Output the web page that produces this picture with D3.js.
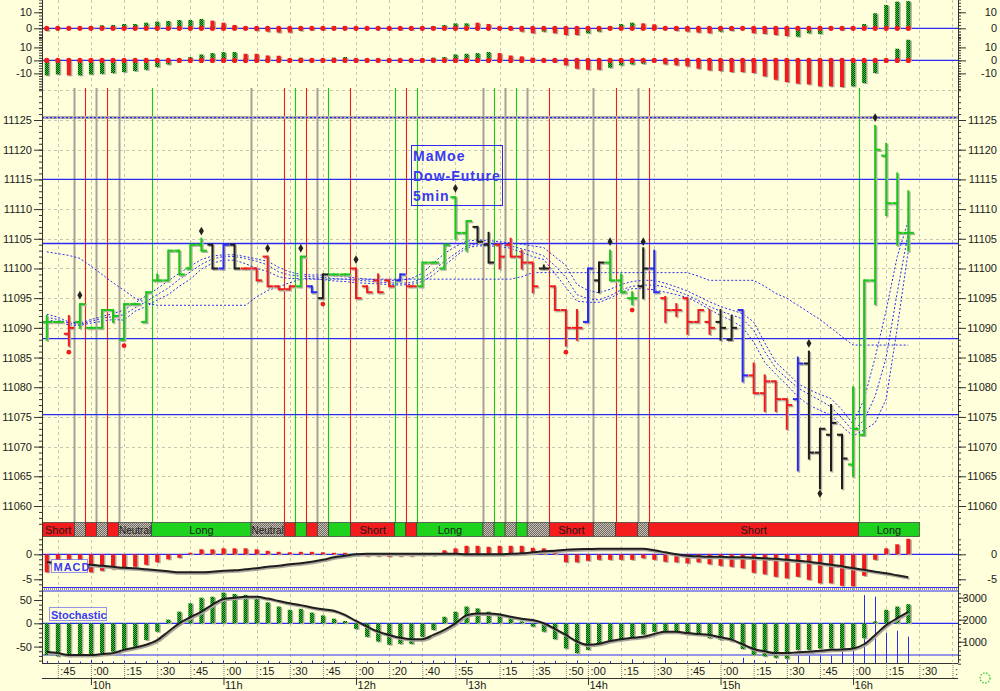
<!DOCTYPE html>
<html><head><meta charset="utf-8">
<script src="https://cdn.jsdelivr.net/npm/d3@7"></script>
<style>
body{margin:0;background:#ffffdb;}
svg{display:block;font-family:"Liberation Sans",Arial,sans-serif;}
</style></head>
<body><svg id="c" width="1000" height="691"></svg>
<script>
// ---------------- DATA ----------------
const barOpen = [11091,11091,11089,11091,11090,11090,11093,11088,11094,11091,
 11098,11098,11103,11100,11104,11104,11100,11104,11100,11100,
 11102,11097,11096.5,11097,11097,11095,11099,11099,11100,11097,
 11098,11098,11098,11097,11097,11101,11100,11112,11106,11107,
 11104,11104,11104,11102,11101,11100,11097,11093,11090,11091,
 11098,11101,11098,11095,11097,11100,11095,11093,11095,11091,
 11091,11091,11088,11093,11082,11079,11081,11078,11078,11084,
 11069,11072,11072,11067,11072,11098,11119,11111,11106];
const barHigh = [11092,11091,11092,11094,11090,11093,11093,11094,11094,11096,
 11099,11103,11103,11104,11105,11104,11104,11104,11100,11100,
 11102,11097,11097,11102,11097,11099,11099,11099,11100,11097,
 11099,11098,11099,11097,11101,11101,11104,11112,11108,11107,
 11106,11104,11105,11103,11101,11100.5,11097,11093,11093,11100,
 11101,11103,11099,11096,11103.4,11103,11095.2,11094,11095,11093,
 11093,11093,11092,11093,11084,11082,11081,11078,11085,11086,
 11073,11077,11072,11080,11098,11124,11121,11116,11113];
const barLow = [11088,11091,11087,11090,11090,11090,11091,11088,11094,11091,
 11098,11098,11099,11100,11103,11100,11100,11100,11100,11098,
 11097,11096.5,11096.5,11097,11096,11095,11099,11099,11095,11096,
 11096,11097,11098,11097,11097,11101,11100,11105,11103,11104.5,
 11101,11100,11102,11100,11096,11100,11093,11087,11088,11091,
 11096,11098,11096,11094,11095,11096,11091,11092,11089,11091,
 11089,11088,11088,11081,11079,11076,11076,11073,11066,11068,
 11063,11066,11063,11065,11072,11094,11109,11104,11103];
const barClose = [11091,11091,11090,11094,11090,11093,11092,11094,11094,11096,
 11098,11103,11099,11104,11103,11100,11104,11100,11100,11098,
 11097,11096.5,11097,11102,11096,11099,11099,11099,11095,11096,
 11096,11097,11099,11097,11101,11101,11104,11106,11108,11104.5,
 11101,11102,11102,11101,11097,11100,11093,11090,11090,11100,
 11101,11098,11096,11095,11100,11096,11093,11093,11091,11093,
 11090,11090,11090,11082,11079,11081,11078,11077,11084,11069,
 11073,11074,11068,11073,11098,11120,11111,11106,11106];
const barColor = ["g","g","r","g","g","g","g","g","g","g",
 "g","g","g","g","g","k","b","k","r","r",
 "r","r","r","g","b","k","g","g","r","r",
 "r","r","b","r","g","g","g","g","g","k",
 "k","r","r","r","r","k","r","r","r","b",
 "k","g","g","g","k","b","r","r","r","r",
 "r","k","k","b","r","r","r","r","b","k",
 "k","k","k","g","g","g","g","g","g"];
const signal = ["S","S","S","N","S","N","S","N","N","N",
 "L","L","L","L","L","L","L","L","L","N",
 "N","N","S","L","S","N","L","L","S","S",
 "S","S","L","S","L","L","L","L","L","L",
 "N","L","N","L","N","N","S","S","S","S",
 "N","N","S","S","N","S","S","S","S","S",
 "S","S","S","S","S","S","S","S","S","S",
 "S","S","S","S","L","L","L","L","L"];
const signalNames = {S:"Short", L:"Long", N:"Neutral"};
const maUpper = [11092.3,11091.8,11091.0,11090.8,11091.4,11091.9,11092.4,11093.0,11094.2,11095.4,
 11096.6,11097.9,11099.2,11100.4,11101.5,11102.1,11102.3,11102.3,11102.0,11101.6,
 11101.2,11100.2,11099.4,11099.0,11098.9,11098.9,11098.8,11098.6,11098.4,11098.2,
 11098.1,11098.0,11098.0,11098.3,11099.2,11100.9,11102.5,11103.7,11104.6,11104.8,
 11104.7,11104.5,11104.3,11104.1,11103.8,11103.5,11102.0,11100.5,11097.3,11096.3,
 11095.9,11096.5,11097.3,11097.8,11098.0,11098.0,11097.5,11096.9,11096.2,11095.3,
 11094.4,11093.6,11093.0,11092.4,11091.0,11087.5,11084.2,11082.5,11080.6,11079.6,
 11078.8,11078.1,11076.2,11073.8,11078.0,11085.0,11093.0,11102.0,11108.0];
const maMid = [11091.8,11091.4,11090.8,11090.6,11091.1,11091.6,11091.9,11092.2,11093.4,11094.4,
 11095.6,11096.7,11098.2,11099.4,11100.7,11101.6,11102.0,11102.0,11101.7,11101.2,
 11100.6,11099.4,11098.9,11098.7,11098.6,11098.5,11098.3,11098.2,11098.0,11097.9,
 11097.7,11097.6,11097.5,11097.6,11098.3,11099.6,11101.2,11102.5,11103.8,11104.1,
 11104.1,11104.0,11103.8,11103.3,11102.8,11102.1,11100.5,11098.5,11095.6,11094.9,
 11094.7,11095.4,11096.4,11097.0,11097.2,11097.2,11096.9,11096.2,11095.5,11094.6,
 11093.6,11092.8,11092.2,11091.5,11089.6,11086.0,11083.2,11081.5,11079.9,11078.8,
 11077.8,11076.7,11074.8,11072.6,11074.5,11078.5,11085.0,11096.0,11106.0];
const maLower = [11091.4,11091.0,11090.5,11090.4,11090.8,11091.1,11091.4,11091.3,11092.8,11093.6,
 11094.7,11095.6,11097.0,11098.2,11099.9,11100.9,11101.4,11101.4,11100.8,11100.0,
 11099.5,11098.6,11098.3,11098.3,11098.3,11098.1,11097.9,11097.8,11097.6,11097.5,
 11097.4,11097.3,11097.2,11097.3,11097.8,11098.9,11100.5,11102.0,11103.5,11103.8,
 11103.8,11103.7,11103.4,11102.7,11102.0,11101.5,11099.2,11096.8,11094.5,11094.3,
 11094.3,11095.0,11096.0,11096.6,11096.6,11096.4,11096.0,11095.6,11095.1,11094.2,
 11093.1,11092.1,11091.2,11090.1,11087.6,11084.2,11082.2,11080.4,11078.4,11077.0,
 11076.1,11075.3,11073.4,11071.8,11072.8,11074.0,11078.0,11090.0,11103.0];
const maSlow = [11102.8,11102.5,11102.2,11101.7,11100.4,11099.0,11097.6,11096.3,11095.0,11094.2,
 11093.8,11093.8,11093.8,11093.8,11093.8,11093.8,11093.8,11093.8,11093.8,11095.2,
 11096.3,11096.9,11097.6,11098.2,11098.2,11098.2,11098.2,11098.2,11098.2,11098.2,
 11098.2,11098.2,11098.2,11098.2,11098.2,11098.2,11098.2,11098.2,11098.2,11098.2,
 11098.2,11098.2,11098.2,11098.6,11099.3,11099.3,11099.3,11099.3,11099.3,11099.3,
 11099.3,11099.3,11099.3,11099.3,11099.3,11099.3,11099.3,11099.3,11099.3,11098.7,
 11098.0,11098.0,11098.0,11098.0,11098.0,11097.0,11095.8,11095.0,11093.8,11092.6,
 11091.4,11090.0,11088.5,11087.1,11087.1,11087.1,11087.1,11087.1,11087.1];
const levels = [11125.4, 11115, 11104.2, 11088.2, 11075.4];
const diamondIdx = [3,14,20,23,28,37,51,54,69,70,75];
const diamondVal = [11095.5,11106.3,11103.4,11103.4,11101.5,11113.5,11104.5,11104.5,11087.4,11062.1,11125.4];
const dotIdx = [2,7,25,47,53];
const dotVal = [11085.9,11087,11094,11085.9,11093];

const p1Val = [-1.5,0,0,0,1.4,1.9,2.1,2.7,2.7,3.5,
 4.2,4.6,5.2,5.2,5.8,4.8,3.5,2.1,1.0,-1.5,
 -2.1,-2.7,-2.7,-1.5,-1.0,-1.0,1.4,1.4,0,0,
 0,-1.0,-1.0,-1.0,0,1.4,2.1,3.1,3.1,3.5,
 2.7,0,-1.0,-2.1,-3.1,-2.1,-3.1,-4.2,-4.2,-3.1,
 -2.1,1.4,2.7,3.5,3.1,2.5,0,-1.5,-2.1,-2.7,
 -3.1,-2.1,-1.5,0,-3.1,-3.5,-4.2,-4.8,-5.2,-3.1,
 -3.5,1.0,-1.0,1.0,2.7,9.4,14.6,16.7,17.0];
const p1Col = ["g","r","r","r","g","g","g","g","g","g",
 "g","g","g","g","g","r","r","r","r","r",
 "r","r","r","g","r","k","g","k","r","r",
 "r","r","g","r","r","k","g","g","g","r",
 "r","r","r","r","r","g","r","r","r","g",
 "g","g","g","g","r","r","r","r","r","r",
 "r","g","g","r","r","r","r","r","g","g",
 "g","r","g","r","g","g","g","g","g"];
const p2Val = [-11.5,-10.8,-11.5,-11.5,-10.8,-10.3,-9.7,-9.0,-8.2,-7.2,
 -5.1,-3.1,0,2.6,4.6,5.6,6.4,6.4,5.1,5.1,
 3.8,3.6,1.3,2.1,1.3,1.3,2.1,2.6,1.3,1.3,
 1.3,0,0,0,1.3,2.1,2.6,4.6,5.1,5.6,
 6.4,5.6,3.8,3.1,2.1,0.5,-1.3,-3.8,-6.4,-7.2,
 -7.2,-5.6,-3.8,-3.1,-2.6,0,-3.1,-3.8,-4.6,-6.4,
 -7.7,-8.2,-9.0,-9.0,-9.7,-12.3,-14.9,-16.7,-17.9,-18.5,
 -20,-20,-20.5,-20,-17.4,-9.7,0,9.0,15.9];
const p2Col = ["g","g","r","g","g","g","g","g","g","g",
 "g","g","r","g","g","g","g","g","r","r",
 "r","r","r","g","r","g","g","g","r","r",
 "r","r","r","r","g","g","g","g","g","g",
 "g","r","r","r","r","r","r","r","r","r",
 "r","g","g","g","g","k","r","r","r","r",
 "r","r","r","r","r","r","r","r","r","r",
 "r","r","r","g","g","g","r","g","g"];
const macdHist = [-3.6,-3.5,-3.1,-3.1,-3.6,-3.3,-3.0,-2.8,-2.5,-2.1,
 -1.6,-1.0,-0.7,0.3,1.0,1.0,1.2,1.2,1.2,1.0,
 0.7,0.5,0.4,0.5,0.5,0.4,0.3,0.3,-0.3,-0.4,
 -0.4,-0.5,-0.4,-0.4,-0.3,-0.3,0.8,1.2,1.7,1.7,
 1.5,1.7,1.7,1.7,1.3,1.2,0.6,-1.6,-1.6,-1.3,
 -1.1,-1.1,-1.1,-1.1,-0.8,-1.1,-1.5,-1.6,-1.8,-1.6,
 -2.0,-2.3,-2.5,-2.8,-3.7,-4.0,-4.5,-4.8,-4.5,-5.1,
 -5.8,-5.8,-6.3,-6.4,-4.3,-1.1,1.2,2.0,3.1];
const macdLine = [-1.6,-1.7,-1.8,-2.0,-2.1,-2.3,-2.5,-2.7,-2.8,-3.0,
 -3.2,-3.4,-3.6,-3.6,-3.6,-3.5,-3.3,-3.2,-3.0,-2.8,
 -2.5,-2.3,-2.0,-1.8,-1.5,-1.1,-0.6,-0.3,0,0.1,
 0.1,0.1,0.1,0.1,0.1,0.1,0.1,0.1,0,0,
 0,0,0.1,0.2,0.4,0.6,0.7,0.9,1.0,1.05,
 1.1,1.1,1.1,1.1,1.1,0.8,0.4,0,-0.3,-0.4,
 -0.5,-0.5,-0.6,-0.6,-0.7,-0.8,-0.9,-1.1,-1.3,-1.5,
 -1.8,-2.1,-2.4,-2.8,-3.1,-3.5,-3.8,-4.2,-4.6];
const stochHist = [-68,-71,-71,-66,-66,-64,-61,-57,-50,-36,
 -18,8,25,43,55,57,66,63,61,54,
 45,36,29,31,23,17,10,5,-12,-29,
 -39,-46,-44,-44,-29,-14,14,25,36,32,
 25,21,12,4,-7,-18,-34,-54,-64,-57,
 -45,-39,-34,-31,-24,-18,-18,-18,-24,-24,
 -32,-36,-39,-55,-68,-71,-74,-76,-57,-57,
 -54,-54,-54,-54,-32,4,29,36,41];
const stochLine = [-61,-64,-68,-68,-68,-66,-64,-57,-52,-46,
 -36,-18,0,13,25,40,52,55,57,57,
 53,48,43,39,34,30,27,18,5,-7,
 -18,-25,-31,-34,-34,-25,-14,0,17,21,
 21,19,14,10,7,0,-12,-25,-39,-46,
 -44,-38,-34,-31,-29,-23,-18,-18,-21,-23,
 -25,-30,-35,-45,-55,-60,-64,-64,-62,-61,
 -59,-57,-56,-54,-45,-25,-4,11,24];
const volume = [120,100,150,100,180,120,100,140,100,120,
 150,100,130,100,120,100,150,100,120,100,
 130,100,120,100,150,100,120,100,150,100,
 120,100,130,100,120,150,100,270,150,100,
 120,100,150,100,120,100,130,90,150,100,
 80,120,80,200,100,80,270,80,100,80,
 150,80,80,270,170,100,120,270,360,360,
 360,360,620,620,3120,3050,1400,1500,1230];
const tickIdx = [1,4,7,10,13,16,19,22,25,28,31,34,37,41,44,47,49,52,55,58,61,64,67,70,73,76,79,82];
const tickLabels = [":45",":00",":15",":30",":45",":00",":15",":30",":45",":00",":20",":40",":55",
 ":15",":35",":50",":00",":15",":30",":45",":00",":15",":30",":45",":00",":15",":30",":45"];
const hourIdx = [4,16,28,38,49,61,73];
const hourLabels = ["10h","11h","12h","13h","14h","15h","16h"];
const titleLines = ["MaMoe","Dow-Future","5min"];

// ---------------- SETUP ----------------
const BG = "#ffffdb";
const RED = "#f01c1c", GREEN = "#18c818", BLUE = "#2a2af2", BLACK = "#1e1e1e";
const L = 42, R = 958;
const svg = d3.select("#c");
svg.append("rect").attr("width",1000).attr("height",691).attr("fill",BG);
const defs = svg.append("defs");
function stip(id, a, b){
  const p = defs.append("pattern").attr("id",id).attr("patternUnits","userSpaceOnUse").attr("width",2).attr("height",2);
  p.append("rect").attr("width",2).attr("height",2).attr("fill",a);
  p.append("rect").attr("x",1).attr("y",0).attr("width",1).attr("height",1).attr("fill",b);
  p.append("rect").attr("x",0).attr("y",1).attr("width",1).attr("height",1).attr("fill",b);
}
stip("gst","#22d422","#0b3f0b");
stip("kst","#9c9c8c","#3a3a32");
stip("nst","#c9c1b6","#6f6a62");
defs.append("clipPath").attr("id","plotclip").append("rect").attr("x",L).attr("y",0).attr("width",R-L).attr("height",691);

const x = d3.scaleLinear().domain([-0.43, 82.5]).range([L, R]);
const yM = d3.scaleLinear().domain([11060, 11125]).range([506, 120]);
const yP1 = d3.scaleLinear().domain([0, 10]).range([28.3, 12.3]);
const yP2 = d3.scaleLinear().domain([0, 10]).range([60.4, 47.4]);
const yMacd = d3.scaleLinear().domain([0, -5]).range([554.3, 579.3]);
const ySt = d3.scaleLinear().domain([0, 50]).range([623.3, 600]);
const yVol = d3.scaleLinear().domain([0, 3000]).range([663.7, 597.7]);
const idx = d3.range(barOpen.length);
const px = v => Math.round(v) + 0.5;

const root = svg.append("g").attr("clip-path","url(#plotclip)");

// ---------------- GRID ----------------
const grid = root.append("g").attr("stroke","#c6c6b2").attr("stroke-dasharray","3,3").attr("stroke-width",1);
tickIdx.forEach(t => grid.append("line").attr("x1",px(x(t))).attr("x2",px(x(t))).attr("y1",0).attr("y2",662));
d3.range(11060, 11131, 5).forEach(v => grid.append("line").attr("x1",L).attr("x2",R).attr("y1",px(yM(v))).attr("y2",px(yM(v))));

// zero lines
[[yP1(0)],[yP2(0)],[yMacd(0)],[ySt(0)],[655]].forEach(([yy]) =>
  root.append("line").attr("x1",L).attr("x2",R).attr("y1",yy).attr("y2",yy).attr("stroke",BLUE).attr("stroke-width",1.2));

// ---------------- SIGNAL VERTICAL LINES ----------------
const sigCol = {S:RED, L:GREEN, N:"#a8a096"};
const vl = root.append("g");
for (let k = 1; k < signal.length; k++) {
  if (signal[k] !== signal[k-1]) {
    const xx = px(x(k - 0.5));
    vl.append("line").attr("x1",xx).attr("x2",xx).attr("y1",88).attr("y2",522)
      .attr("stroke",sigCol[signal[k]]).attr("stroke-width",signal[k]==="N"?2:1.1);
  }
}

// horizontal level lines
levels.forEach((lv,i) => {
  const yy = yM(lv);
  if (i === 0) {
    root.append("line").attr("x1",L).attr("x2",R).attr("y1",yy).attr("y2",yy).attr("stroke","#b2aca4").attr("stroke-width",3);
    root.append("line").attr("x1",L).attr("x2",R).attr("y1",yy).attr("y2",yy).attr("stroke",BLUE).attr("stroke-width",1.2).attr("stroke-dasharray","2,2");
  } else {
    root.append("line").attr("x1",L).attr("x2",R).attr("y1",yy).attr("y2",yy).attr("stroke",BLUE).attr("stroke-width",1.3);
  }
});

// ---------------- SIGNAL BAND ----------------
const band = root.append("g");
let s0 = 0;
const segs = [];
for (let k = 1; k <= signal.length; k++) {
  if (k === signal.length || signal[k] !== signal[s0]) { segs.push([s0, k-1, signal[s0]]); s0 = k; }
}
segs.forEach(([a,b,st], j) => {
  const x0 = j === 0 ? L : x(a - 0.5);
  const x1 = j === segs.length-1 ? x(b + 1) : x(b + 0.5);
  band.append("rect").attr("x",x0).attr("y",522.5).attr("width",x1-x0).attr("height",14)
    .attr("fill", st==="S"?"#f41c1c":st==="L"?"#1ed21e":"url(#nst)").attr("stroke","#3a3a3a").attr("stroke-width",0.7);
  if (b - a + 1 >= 3) {
    const t = band.append("text").attr("x",(x0+x1)/2).attr("y",533.5).attr("text-anchor","middle")
      .attr("font-size",11).attr("fill","#1a1a1a").text(signalNames[st]);
    if (st === "N") t.attr("textLength", x1 - x0 - 1).attr("lengthAdjust","spacingAndGlyphs");
  }
});

// separator MACD / Stoch
root.append("line").attr("x1",L).attr("x2",R).attr("y1",589).attr("y2",589).attr("stroke","#9a9590").attr("stroke-width",2).attr("stroke-dasharray","1,1");
root.append("line").attr("x1",L).attr("x2",R).attr("y1",591).attr("y2",591).attr("stroke",BLUE).attr("stroke-width",1);
root.append("line").attr("x1",L).attr("x2",R).attr("y1",587.5).attr("y2",587.5).attr("stroke",BLUE).attr("stroke-width",1);

// ---------------- TOP PANELS ----------------
const colFill = c => c==="g" ? "url(#gst)" : c==="r" ? RED : "url(#kst)";
function histPanel(vals, cols, ys, dots) {
  const g = root.append("g");
  g.selectAll(".sh").data(idx).join("rect")
    .attr("x", i => x(i)-2+1.5).attr("width",4)
    .attr("y", i => Math.min(ys(0), ys(vals[i]))+1).attr("height", i => Math.abs(ys(vals[i])-ys(0)))
    .attr("fill","#b0aca0");
  g.selectAll(".br").data(idx).join("rect")
    .attr("x", i => x(i)-2).attr("width",4)
    .attr("y", i => Math.min(ys(0), ys(vals[i]))).attr("height", i => Math.abs(ys(vals[i])-ys(0)))
    .attr("fill", i => colFill(cols[i]));
  if (dots) g.selectAll(".dt").data(idx).join("circle")
    .attr("cx", i => x(i)).attr("cy", ys(0)).attr("r",2.6).attr("fill",RED);
}
histPanel(p1Val, p1Col, yP1, true);
histPanel(p2Val, p2Col, yP2, true);

// ---------------- MACD ----------------
histPanel(macdHist, macdHist.map(()=>"r"), yMacd, false);
const lineMacd = d3.line().x(i => x(i)).y(i => yMacd(macdLine[i])).curve(d3.curveMonotoneX);
root.append("path").attr("d", lineMacd(idx)).attr("transform","translate(1.2,1.5)").attr("fill","none").attr("stroke","#a9a59b").attr("stroke-width",2);
root.append("path").attr("d", lineMacd(idx)).attr("fill","none").attr("stroke",BLACK).attr("stroke-width",2);

// ---------------- STOCHASTIC + VOLUME ----------------
const vg = root.append("g");
vg.selectAll("line").data(idx).join("line")
  .attr("x1", i => px(x(i))).attr("x2", i => px(x(i)))
  .attr("y1", yVol(0)).attr("y2", i => yVol(volume[i]))
  .attr("stroke", BLUE).attr("stroke-width",1);
histPanel(stochHist, stochHist.map(()=>"g"), ySt, false);
const lineSt = d3.line().x(i => x(i)).y(i => ySt(stochLine[i])).curve(d3.curveMonotoneX);
root.append("path").attr("d", lineSt(idx)).attr("transform","translate(1.2,1.5)").attr("fill","none").attr("stroke","#a9a59b").attr("stroke-width",2);
root.append("path").attr("d", lineSt(idx)).attr("fill","none").attr("stroke",BLACK).attr("stroke-width",2);

// ---------------- MAIN: MOVING AVERAGES ----------------
const maG = root.append("g").attr("fill","none").attr("stroke",BLUE).attr("stroke-width",1).attr("stroke-dasharray","2,2");
[maUpper, maMid, maLower, maSlow].forEach(arr => {
  const ln = d3.line().x(i => x(i)).y(i => yM(arr[i]));
  maG.append("path").attr("d", ln(idx));
});

// ---------------- MAIN: BARS ----------------
const barCol = {g:GREEN, r:RED, k:BLACK, b:BLUE};
function drawBars(g, colorFn, dx, dy) {
  const s = g.append("g").attr("transform",`translate(${dx},${dy})`).attr("stroke-width",2);
  s.selectAll(".v").data(idx).join("line")
    .attr("x1", i => x(i)).attr("x2", i => x(i))
    .attr("y1", i => yM(barHigh[i])-1).attr("y2", i => yM(barLow[i])+1)
    .attr("stroke", colorFn);
  s.selectAll(".o").data(idx).join("line")
    .attr("x1", i => x(i)-5).attr("x2", i => x(i))
    .attr("y1", i => yM(barOpen[i])).attr("y2", i => yM(barOpen[i]))
    .attr("stroke", colorFn);
  s.selectAll(".c").data(idx).join("line")
    .attr("x1", i => x(i)).attr("x2", i => x(i)+5.5)
    .attr("y1", i => yM(barClose[i])).attr("y2", i => yM(barClose[i]))
    .attr("stroke", colorFn);
}
const bars = root.append("g");
drawBars(bars, () => "#b4b0a6", 1.3, 1.3);
drawBars(bars, i => barCol[barColor[i]], 0, 0);

// markers
root.append("g").selectAll("path").data(diamondIdx).join("path")
  .attr("d", d3.symbol(d3.symbolDiamond, 22))
  .attr("transform", (d,j) => `translate(${x(d)},${yM(diamondVal[j])})`).attr("fill","#222");
root.append("g").selectAll("circle").data(dotIdx).join("circle")
  .attr("cx", d => x(d)).attr("cy", (d,j) => yM(dotVal[j])).attr("r",2.4).attr("fill",RED);

// ---------------- ANNOTATIONS ----------------
svg.append("rect").attr("x",411.5).attr("y",145.5).attr("width",91).attr("height",60)
  .attr("fill","none").attr("stroke",BLUE).attr("stroke-width",1);
titleLines.forEach((t,i) => svg.append("text").attr("x",413).attr("y",161+i*20)
  .attr("font-size",14).attr("font-weight","bold").attr("letter-spacing",1).attr("fill","#3a3af0").text(t));

svg.append("rect").attr("x",51.5).attr("y",559.5).attr("width",36).attr("height",13)
  .attr("fill",BG).attr("stroke",BLUE).attr("stroke-dasharray","1,1");
svg.append("text").attr("x",53.5).attr("y",570.5).attr("font-size",11).attr("font-weight","bold").attr("letter-spacing",1).attr("fill","#3a3af0").text("MACD");
svg.append("rect").attr("x",49.5).attr("y",607.5).attr("width",57).attr("height",13)
  .attr("fill",BG).attr("stroke",BLUE).attr("stroke-dasharray","1,1");
svg.append("text").attr("x",51).attr("y",618.5).attr("font-size",11).attr("font-weight","bold").attr("fill","#3a3af0").text("Stochastic");

// ---------------- AXES ----------------
function styleAxis(g) {
  g.select(".domain").remove();
  g.selectAll("line").attr("stroke","#333");
  g.selectAll("text").attr("font-size",11).attr("fill","#1a1a1a").attr("font-family","Liberation Sans, Arial, sans-serif");
}
function vAxis(scale, major, minor, side, labelEnd) {
  const xx = side === "left" ? L : R;
  const mk = side === "left" ? d3.axisLeft : d3.axisRight;
  const g1 = svg.append("g").attr("transform",`translate(${xx},0)`).call(mk(scale).tickValues(minor).tickSize(3).tickFormat(""));
  styleAxis(g1);
  const g2 = svg.append("g").attr("transform",`translate(${xx},0)`).call(mk(scale).tickValues(major).tickSize(8).tickPadding(2).tickFormat(d => String(d)));
  styleAxis(g2);
  if (side === "right") g2.selectAll("text").attr("text-anchor","end").attr("x", labelEnd);
}
svg.append("line").attr("x1",L+0.5).attr("x2",L+0.5).attr("y1",0).attr("y2",663).attr("stroke","#333");
svg.append("line").attr("x1",R+0.5).attr("x2",R+0.5).attr("y1",0).attr("y2",663).attr("stroke","#333");
const sides = ["left","right"];
sides.forEach(sd => {
  vAxis(yP1, [0,10], d3.range(-6,19,2), sd, 39);
  vAxis(yP2, [-10,0,10], d3.range(-22,21,2), sd, 39);
  vAxis(yM, d3.range(11060,11126,5), d3.range(11057,11131,1), sd, 39);
  vAxis(yMacd, [-5,0], d3.range(-6,4,1), sd, 39);
});
vAxis(ySt, [-50,0,50], d3.range(-80,71,10), "left");
vAxis(yVol, [1000,2000,3000], d3.range(0,3201,200), "right", 29);

// x axis
const xg = svg.append("g").attr("clip-path","url(#plotclip)");
xg.append("line").attr("x1",L).attr("x2",R).attr("y1",663.5).attr("y2",663.5).attr("stroke","#333");
xg.append("line").attr("x1",L).attr("x2",R).attr("y1",678.5).attr("y2",678.5).attr("stroke","#333");
const xa = xg.append("g").attr("transform","translate(0,663)")
  .call(d3.axisBottom(x).tickValues(tickIdx).tickSize(15).tickFormat((d,i) => tickLabels[i]));
xa.select(".domain").remove();
xa.selectAll("line").attr("stroke","#777").attr("stroke-dasharray","1,1");
xa.selectAll("text").attr("text-anchor","start").attr("x",2).attr("y",4).attr("dy","0.71em")
  .attr("font-size",11).attr("fill","#1a1a1a").attr("font-family","Liberation Sans, Arial, sans-serif");
const xh = xg.append("g").attr("transform","translate(0,678)")
  .call(d3.axisBottom(x).tickValues(hourIdx).tickSize(7).tickFormat((d,i) => hourLabels[i]));
xh.select(".domain").remove();
xh.selectAll("line").attr("stroke","#333");
xh.selectAll("text").attr("text-anchor","start").attr("x",1).attr("y",3).attr("dy","0.71em")
  .attr("font-size",11).attr("fill","#1a1a1a").attr("font-family","Liberation Sans, Arial, sans-serif");

svg.append("circle").attr("cx",985).attr("cy",678).attr("r",5).attr("fill","none").attr("stroke","#3ccf3c").attr("stroke-width",1.5).attr("stroke-dasharray","1.5,1.5");
</script>
</body></html>
